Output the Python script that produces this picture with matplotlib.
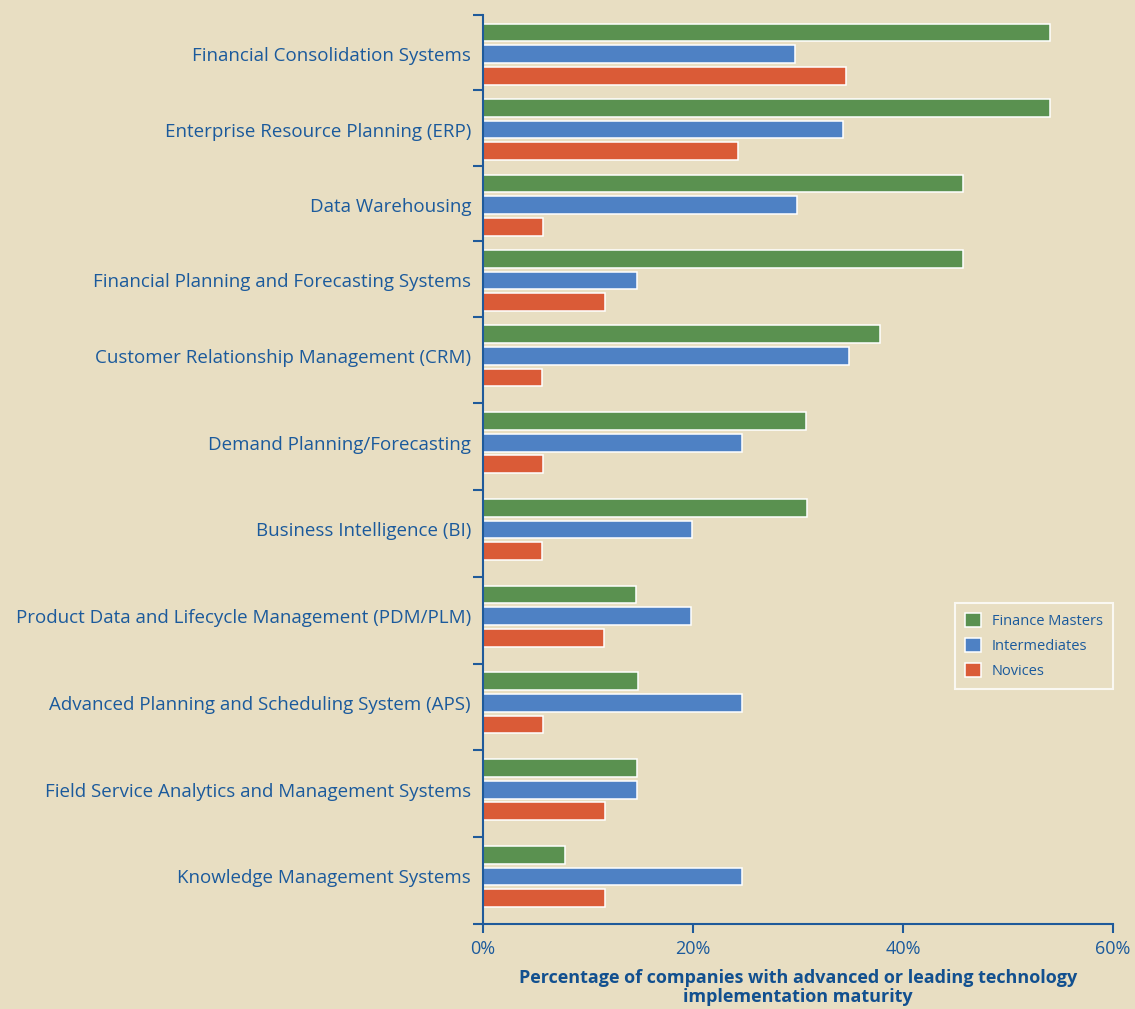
import matplotlib
matplotlib.use('Agg')
import matplotlib.pyplot as plt
import numpy as np

categories = [
    "Financial Consolidation Systems",
    "Enterprise Resource Planning (ERP)",
    "Data Warehousing",
    "Financial Planning and Forecasting Systems",
    "Customer Relationship Management (CRM)",
    "Demand Planning/Forecasting",
    "Business Intelligence (BI)",
    "Product Data and Lifecycle Management (PDM/PLM)",
    "Advanced Planning and Scheduling System (APS)",
    "Field Service Analytics and Management Systems",
    "Knowledge Management Systems",
]
finance_masters = [54, 54, 45.7, 45.7, 37.8, 30.8, 30.9, 14.6, 14.8, 14.7, 7.8]
intermediates = [29.7, 34.3, 29.9, 14.7, 34.9, 24.7, 19.9, 19.8, 24.7, 14.7, 24.7]
novices = [34.6, 24.3, 5.7, 11.6, 5.6, 5.7, 5.6, 11.5, 5.7, 11.6, 11.6]
series_names = ["Finance Masters", "Intermediates", "Novices"]
x_ticks = [0, 20, 40, 60]
x_tick_labels = ["0%", "20%", "40%", "60%"]

# layout (not data)
band_rel = [1.0] * 4 + [1.15] * 7
bar_offsets = [0.232, 0.519, 0.806]
bar_h = 0.235

BG = "#E8DEC2"
AXC = "#1F5A9A"
TXT = "#1B5A9C"
colors = ["#5A9150", "#4E81C4", "#DA5B37"]

plt.rcParams['font.family'] = ['Open Sans', 'DejaVu Sans']

fig = plt.figure(figsize=(11.35, 10.09), dpi=100, facecolor=BG)
ax = fig.add_axes([483/1135, 85/1009, (1113-483)/1135, (924-15)/1009])
ax.set_facecolor(BG)

band_tops = np.concatenate([[0], np.cumsum(band_rel)[:-1]])
total = float(np.sum(band_rel))

for s, (vals, name, c) in enumerate(zip([finance_masters, intermediates, novices], series_names, colors)):
    ys = band_tops + bar_offsets[s]
    ax.barh(ys, vals, height=bar_h, color=c, edgecolor='white', linewidth=1.1, label=name, zorder=2)

ax.set_ylim(total, 0)
ax.set_xlim(0, 60)

centers = band_tops + bar_offsets[1]
ax.set_yticks(centers)
ax.set_yticklabels(categories)
bounds = np.concatenate([band_tops, [total]])
ax.set_yticks(bounds, minor=True)
ax.tick_params(axis='y', which='major', length=0, pad=8.6, labelsize=13.5, labelcolor=TXT)
ax.tick_params(axis='y', which='minor', length=7.5, width=1.5, color=AXC, direction='out')

ax.set_xticks(x_ticks)
ax.set_xticklabels(x_tick_labels)
ax.tick_params(axis='x', which='major', length=6.5, width=1.5, color=AXC, labelsize=13, labelcolor=TXT, pad=5)

for sp in ['top', 'right']:
    ax.spines[sp].set_visible(False)
for sp in ['left', 'bottom']:
    ax.spines[sp].set_color(AXC)
    ax.spines[sp].set_linewidth(1.5)
    ax.spines[sp].set_zorder(3)

ax.set_xlabel("Percentage of companies with advanced or leading technology\nimplementation maturity",
              fontsize=13, fontweight='bold', color="#12508F", labelpad=8, linespacing=1.1)

leg = ax.legend(loc='upper right', bbox_to_anchor=(1.0, 0.353), borderaxespad=0,
                frameon=True, fontsize=10.5, handlelength=1.1, handleheight=1.1,
                handletextpad=0.75, labelspacing=0.6, borderpad=0.7, fancybox=False)
leg.get_frame().set_facecolor(BG)
leg.get_frame().set_edgecolor('white')
leg.get_frame().set_linewidth(1.5)
for t in leg.get_texts():
    t.set_color(TXT)

fig.savefig("out.png", dpi=100, facecolor=BG)
